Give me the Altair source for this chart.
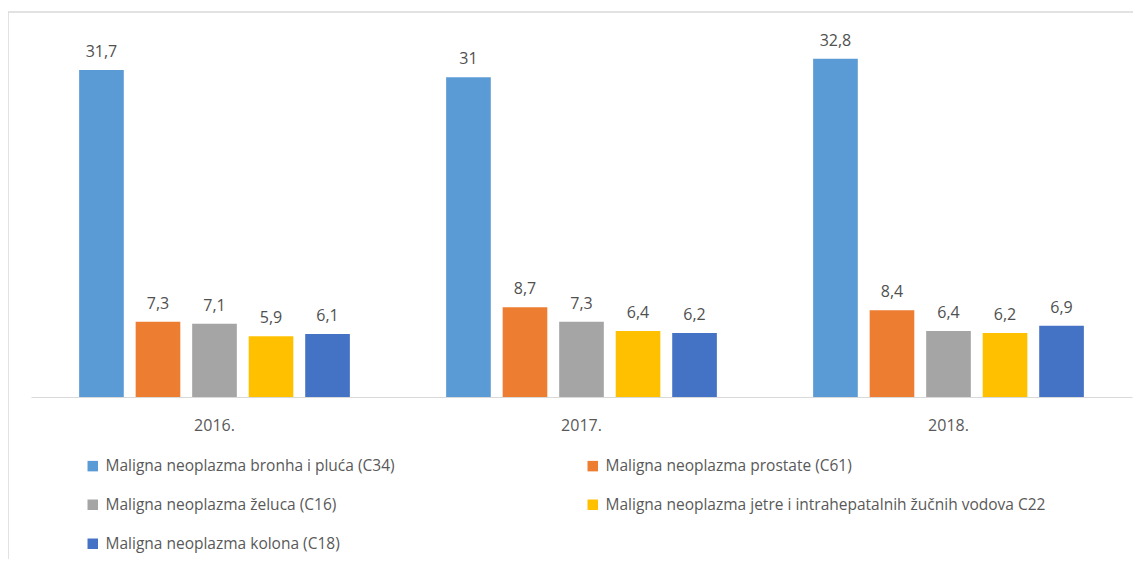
import altair as alt
import pandas as pd

FONT = "Open Sans"

years = ["2016.", "2017.", "2018."]
series = [
    "Maligna neoplazma bronha i pluća (C34)",
    "Maligna neoplazma prostate (C61)",
    "Maligna neoplazma želuca (C16)",
    "Maligna neoplazma jetre i intrahepatalnih žučnih vodova C22",
    "Maligna neoplazma kolona (C18)",
]
c34 = [31.7, 31.0, 32.8]
c61 = [7.3, 8.7, 8.4]
c16 = [7.1, 7.3, 6.4]
c22 = [5.9, 6.4, 6.2]
c18 = [6.1, 6.2, 6.9]
colors = ["#5B9BD5", "#ED7D31", "#A5A5A5", "#FFC000", "#4472C4"]

rows = []
for s, vals in zip(series, [c34, c61, c16, c22, c18]):
    for y, v in zip(years, vals):
        rows.append({"year": y, "series": s, "value": v})
df = pd.DataFrame(rows)

W, H = 1101, 361

base = alt.Chart(df).transform_calculate(
    label="replace(format(datum.value, '.1~f'), '.', ',')"
).encode(
    x=alt.X("year:N", sort=years,
            scale=alt.Scale(paddingInner=0.23, paddingOuter=0.115),
            axis=alt.Axis(title=None, labelAngle=0, domainColor="#d9d9d9", domainWidth=1,
                          ticks=False, labelPadding=20, labelFontSize=16,
                          labelColor="#595959", labelFont=FONT)),
    xOffset=alt.XOffset("series:N", sort=series,
                        scale=alt.Scale(paddingInner=0.21, paddingOuter=0.105)),
)

bars = base.mark_bar().encode(
    y=alt.Y("value:Q", scale=alt.Scale(domain=[0, 35], nice=False), axis=None),
    color=alt.Color("series:N", sort=series,
                    scale=alt.Scale(domain=series, range=colors),
                    legend=alt.Legend(title=None, orient="none", legendX=54, legendY=422,
                                      direction="horizontal", columns=2, columnPadding=190,
                                      rowPadding=22, symbolType="square", symbolSize=110,
                                      symbolStrokeWidth=0, labelFontSize=15.5, labelFont=FONT,
                                      labelColor="#595959", labelLimit=0, padding=0,
                                      symbolOffset=0, labelOffset=5)),
)

text = base.mark_text(dy=-13, baseline="alphabetic", fontSize=16, color="#505050",
                      font=FONT).encode(
    y=alt.Y("value:Q", axis=None),
    text="label:N",
)

frame_data = alt.Data(values=[{}])
top_line = alt.Chart(frame_data).mark_rule(color="#d9d9d9", strokeWidth=1.5).encode(
    x=alt.value(-23), x2=alt.value(W + 40), y=alt.value(-24)
)
left_line = alt.Chart(frame_data).mark_rule(color="#d9d9d9", strokeWidth=1.5).encode(
    x=alt.value(-23), y=alt.value(-24), y2=alt.value(H + 200)
)

chart = alt.layer(top_line, left_line, bars, text).properties(
    width=W, height=H,
    autosize=alt.AutoSizeParams(type="none"),
    padding={"left": 23, "top": 28, "right": 1, "bottom": 162},
).configure_view(stroke=None)

chart.save("out.html", embed_options={"renderer": "svg", "actions": False})
